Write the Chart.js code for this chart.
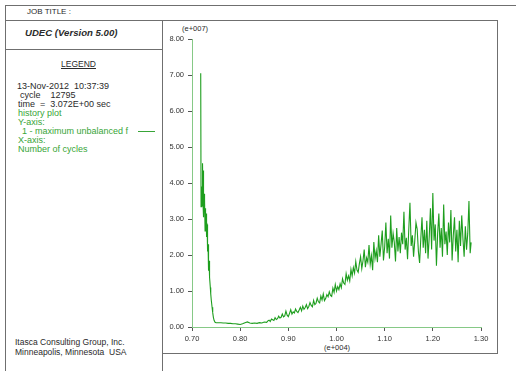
<!DOCTYPE html>
<html>
<head>
<meta charset="utf-8">
<title>UDEC history plot</title>
<script src="https://cdn.jsdelivr.net/npm/chart.js@4.4.1/dist/chart.umd.min.js"></script>
<style>
    html, body { margin: 0; padding: 0; background: #fff; }
    body { width: 516px; height: 371px; position: relative; overflow: hidden;
           font-family: "Liberation Sans", Arial, sans-serif; color: #2a2a2a; }
    .hl, .vl { position: absolute; background: #6f6f6f; }
    .hl { height: 1px; }
    .vl { width: 1px; }
    .txt { position: absolute; white-space: pre; line-height: 1; }
    .green { color: #38a538; }
    #plot { position: absolute; left: 162px; top: 20px; }
</style>
</head>
<body>

<!-- frame -->
<div class="hl" style="left:5px; top:5px; width:511px;"></div>
<div class="vl" style="left:5px; top:5px; height:366px;"></div>
<div class="hl" style="left:5px; top:20px; width:492px;"></div>
<div class="vl" style="left:162px; top:20px; height:351px;"></div>
<div class="vl" style="left:497px; top:20px; height:333px;"></div>
<div class="hl" style="left:5px; top:49px; width:157px;"></div>
<div class="hl" style="left:162px; top:353px; width:336px;"></div>

<!-- header and legend panel -->
<div class="txt" style="left:27px; top:8px; font-size:8px;">JOB TITLE :</div>
<div class="txt" style="left:25px; top:28px; font-size:9.6px; font-weight:bold; font-style:italic;">UDEC (Version 5.00)</div>
<div class="txt" style="left:61px; top:60px; font-size:8.5px; text-decoration:underline;">LEGEND</div>

<div class="txt" style="left:17px; top:82px; font-size:9px;">13-Nov-2012  10:37:39</div>
<div class="txt" style="left:20px; top:91px; font-size:9px;">cycle    12795</div>
<div class="txt" style="left:18px; top:100px; font-size:9px;">time  =  3.072E+00 sec</div>
<div class="txt green" style="left:18px; top:109px; font-size:9px;">history plot</div>
<div class="txt green" style="left:18px; top:118px; font-size:9px;">Y-axis:</div>
<div class="txt green" style="left:22px; top:127px; font-size:9px;">1 - maximum unbalanced f</div>
<div class="hl" style="left:138px; top:131px; width:17px; background:#38a538;"></div>
<div class="txt green" style="left:18px; top:136px; font-size:9px;">X-axis:</div>
<div class="txt green" style="left:18px; top:145px; font-size:9px;">Number of cycles</div>

<div class="txt" style="left:15px; top:338px; font-size:8.5px;">Itasca Consulting Group, Inc.</div>
<div class="txt" style="left:15px; top:348px; font-size:8.5px;">Minneapolis, Minnesota  USA</div>

<!-- axis multipliers -->
<div class="txt" style="left:182px; top:25px; font-size:7.5px;">(e+007)</div>
<div class="txt" style="left:324px; top:344px; font-size:7.5px;">(e+004)</div>

<canvas id="plot" width="335" height="333"></canvas>

<script>
// history: cycle number vs maximum unbalanced force (units of 1e7)
const cycles = [
    7181, 7188, 7200, 7208, 7215, 7222, 7229, 7236, 7243, 7250,
    7257, 7264, 7271, 7278, 7285, 7292, 7299, 7306, 7313, 7320,
    7326, 7333, 7340, 7347, 7354, 7361, 7368, 7380, 7389, 7400,
    7417, 7430, 7444, 7460, 7479, 7500,
    7550, 7600, 7650, 7700, 7750, 7800, 7850, 7900, 7950, 8000,
    8050, 8100, 8150, 8200, 8250, 8300, 8350, 8400, 8450, 8500, 8550,
    8575, 8600, 8625, 8650, 8675, 8700, 8725, 8750, 8775, 8800,
    8825, 8850, 8875, 8900, 8925, 8950, 8975, 9000, 9025, 9050,
    9075, 9100, 9125, 9150, 9175, 9200, 9225, 9250, 9275, 9300,
    9325, 9350, 9375, 9400, 9425, 9450, 9475, 9500, 9525, 9550,
    9575, 9600, 9625, 9650, 9675, 9700, 9725, 9750, 9775, 9800,
    9825, 9850, 9875, 9900, 9925, 9950, 9975, 10000, 10025, 10050,
    10075, 10100, 10125, 10150, 10175, 10200, 10225, 10250, 10275, 10300,
    10325, 10350, 10375, 10400, 10425, 10450, 10475, 10500, 10525, 10550,
    10575, 10600, 10625, 10650, 10675, 10700, 10725, 10750, 10775, 10800,
    10825, 10850, 10875, 10900, 10925, 10950, 10975, 11000, 11025, 11050,
    11075, 11100, 11125, 11150, 11175, 11200, 11225, 11250, 11275, 11300,
    11325, 11350, 11375, 11400, 11425, 11450, 11475, 11500, 11525, 11550,
    11575, 11600, 11625, 11650, 11675, 11700, 11725, 11750, 11775, 11800,
    11825, 11850, 11875, 11900, 11925, 11950, 11975, 12000, 12025, 12050,
    12075, 12100, 12125, 12150, 12175, 12200, 12225, 12250, 12275, 12300,
    12325, 12350, 12375, 12400, 12425, 12450, 12475, 12500, 12525, 12550,
    12575, 12600, 12625, 12650, 12675, 12700, 12725, 12750, 12775, 12795
];

const maxUnbalancedForce = [
    7.05, 3.34, 3.60, 3.90, 3.35, 4.55, 3.42, 4.35, 3.05, 3.70,
    3.23, 3.55, 2.67, 3.30, 2.95, 3.15, 2.50, 2.90, 2.85, 2.40,
    2.10, 2.30, 1.93, 1.56, 1.84, 1.50, 1.38, 1.10, 0.92, 0.75,
    0.55, 0.40, 0.27, 0.18, 0.13, 0.12,
    0.12, 0.12, 0.11, 0.11, 0.10, 0.10, 0.09, 0.09, 0.08, 0.07,
    0.09, 0.12, 0.14, 0.11, 0.10, 0.11, 0.10, 0.12, 0.11, 0.14, 0.13,
    0.17, 0.19, 0.15, 0.22, 0.20, 0.18, 0.26, 0.21, 0.23, 0.30,
    0.25, 0.27, 0.36, 0.28, 0.31, 0.44, 0.33, 0.29, 0.38, 0.48,
    0.36, 0.42, 0.39, 0.50, 0.43, 0.40, 0.47, 0.55, 0.45, 0.58,
    0.49, 0.54, 0.62, 0.51, 0.57, 0.68, 0.60, 0.56, 0.74, 0.62,
    0.66, 0.80, 0.70, 0.67, 0.86, 0.75, 0.92, 0.73, 0.79, 0.90,
    0.84, 0.98, 0.88, 0.85, 1.08, 0.96, 1.18, 1.00, 1.12, 1.04,
    1.20, 1.09, 1.34, 1.22, 1.18, 1.48, 1.30, 1.42, 1.28, 1.60,
    1.42, 1.65, 1.50, 1.82, 1.58, 1.52, 1.76, 1.95, 1.62, 1.84,
    2.15, 1.66, 1.92, 1.80, 2.28, 1.74, 1.98, 1.58, 2.36, 1.90,
    2.12, 1.80, 2.55, 1.95, 2.30, 2.68, 1.85, 2.22, 2.90, 2.05,
    2.45, 1.90, 3.10, 2.20, 2.60, 2.35, 1.82, 2.75, 2.10, 2.50,
    2.05, 2.62, 2.30, 3.20, 2.15, 2.48, 1.88, 2.70, 3.45, 2.25,
    2.55, 1.95, 2.40, 2.90, 2.72, 2.10, 1.78, 2.45, 3.05, 2.20,
    2.70, 2.05, 2.95, 1.90, 2.50, 3.30, 2.15, 3.72, 2.40, 2.85,
    1.70, 2.60, 3.15, 2.20, 2.75, 1.95, 3.40, 2.30, 2.65, 2.00,
    2.90, 2.35, 3.25, 1.85, 2.55, 3.05, 2.10, 2.70, 1.80, 2.95,
    2.25, 3.10, 2.45, 1.95, 2.80, 2.15, 2.60, 3.50, 2.05, 2.35
];

// axis ranges (x in cycles, y in 1e7)
const xTicks = [7000, 13000, 1000];
const yTicks = [0, 8, 1];

const LINE_GREEN = '#1e9e1e';
const AXIS_GREEN = '#86c986';
const TICK_FONT = { family: '"Liberation Sans", Arial, sans-serif', size: 7.5 };

const points = cycles.map((c, i) => ({ x: c, y: maxUnbalancedForce[i] }));

new Chart(document.getElementById('plot'), {
    type: 'line',
    data: {
        datasets: [{
            label: '1 - maximum unbalanced f',
            data: points,
            borderColor: LINE_GREEN,
            borderWidth: 1.1,
            pointRadius: 0,
            tension: 0,
            fill: false
        }]
    },
    options: {
        responsive: false,
        animation: false,
        layout: { padding: { top: 19, right: 16, left: 0, bottom: 0 } },
        plugins: { legend: { display: false }, tooltip: { enabled: false } },
        scales: {
            x: {
                type: 'linear',
                min: xTicks[0],
                max: xTicks[1],
                ticks: {
                    stepSize: xTicks[2],
                    autoSkip: false,
                    maxRotation: 0,
                    padding: 3,
                    color: '#333',
                    font: TICK_FONT,
                    callback: v => (v / 1e4).toFixed(2)
                },
                grid: { drawOnChartArea: false, tickLength: 4, color: '#555' },
                border: { color: AXIS_GREEN, width: 1 },
                afterFit: s => { s.height = 26; }
            },
            y: {
                min: yTicks[0],
                max: yTicks[1],
                ticks: {
                    stepSize: yTicks[2],
                    padding: 4,
                    color: '#333',
                    font: TICK_FONT,
                    callback: v => v.toFixed(2)
                },
                grid: { drawOnChartArea: false, tickLength: 4, color: '#555' },
                border: { color: AXIS_GREEN, width: 1 },
                afterFit: s => { s.width = 30; }
            }
        }
    }
});
</script>
</body>
</html>
